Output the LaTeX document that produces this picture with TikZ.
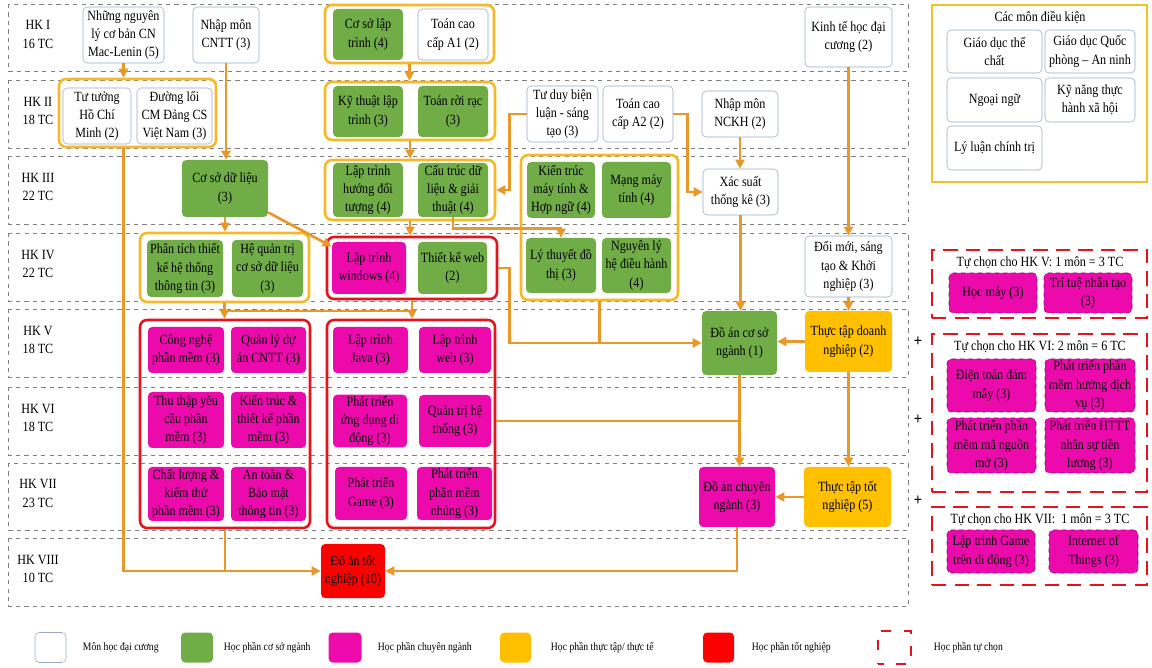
\documentclass[tikz,border=0pt]{standalone}
\usepackage{fontspec}
\setmainfont{Liberation Serif}[FakeStretch=0.86]
\usetikzlibrary{arrows.meta,calc}

\definecolor{csn}{RGB}{112,173,71}
\definecolor{ccn}{RGB}{236,10,172}
\definecolor{ctt}{RGB}{255,192,0}
\definecolor{ctn}{RGB}{255,0,0}
\definecolor{cline}{RGB}{232,152,40}
\definecolor{cgrp}{RGB}{247,184,40}
\definecolor{cdk}{RGB}{240,196,40}
\definecolor{cdc}{RGB}{150,170,200}
\definecolor{cred}{RGB}{228,20,28}
\definecolor{cdash}{RGB}{125,20,105}

\tikzset{
  course/.style={rounded corners=3pt, align=center, inner sep=1pt,
    font=\fontsize{10}{13}\selectfont},
  wh/.style 2 args={minimum width=#1*0.025cm, minimum height=#2*0.025cm},
  dc/.style={course, draw=cdc, fill=white},
  csn/.style={course, fill=csn},
  cn/.style={course, fill=ccn},
  tt/.style={course, fill=ctt},
  tn/.style={course, fill=ctn},
  opt/.style={course, fill=ccn, draw=cdash, dashed, thin},
  grpO/.style={draw=cgrp, line width=1.8pt, rounded corners=5pt},
  grpR/.style={draw=cred, line width=1.8pt, rounded corners=5pt},
  tcbox/.style={draw=cred, line width=1.8pt, dash pattern=on 10pt off 6pt},
  hkband/.style={draw=gray, dashed, line width=0.6pt},
  hklabel/.style={align=center, font=\fontsize{10}{13}\selectfont},
  ttl/.style={font=\fontsize{10}{13}\selectfont},
  legtext/.style={anchor=west, font=\fontsize{8}{9}\selectfont},
  arr/.style={draw=cline, line width=1.9pt, -{Triangle[length=6.5pt,width=6.5pt]}},
  ln/.style={draw=cline, line width=1.9pt}
}

\begin{document}
\begin{tikzpicture}[x=0.025cm, y=-0.025cm]
\useasboundingbox (0,0) rectangle (1152,668);

% hoc ky
\foreach \t/\b/\hk/\tc in {4/71/I/16, 80/148/II/18, 156/224/III/22, 233/301/IV/22,
    309/377/V/18, 387/455/VI/18, 463/530/VII/23, 538/606/VIII/10}{
  \draw[hkband] (8,\t) rectangle (908,\b);
  \node[hklabel] (hk\hk) at (38,{(\t+\b)/2-3}) {HK \hk\\\tc{} TC};
}

% nhom
\node[grpO, wh={169}{58}] (g1) at (409.5,34) {};
\node[grpO, wh={157}{68}] (gtt) at (137.5,113) {};
\node[grpO, wh={170}{58}] (g2) at (410,111) {};
\node[grpO, wh={170}{60}] (g3) at (410,190) {};
\node[grpO, wh={157}{145}] (gK) at (599.5,227.5) {};
\node[grpO, wh={169}{69}] (gP) at (224.5,267.5) {};
\node[grpR, wh={170}{62}] (g4) at (412,268) {};
\node[grpR, wh={170}{208}] (gL) at (225,424) {};
\node[grpR, wh={168}{208}] (gM) at (411,424) {};

% HK I
\node[dc, wh={81}{56}] (nnl) at (123.5,35) {Những nguyên\\lý cơ bản CN\\Mac-Lenin (5)};
\node[dc, wh={66}{56}] (nmcntt) at (226,35) {Nhập môn\\CNTT (3)};
\node[csn, wh={70}{51}] (cslt) at (368,34.5) {Cơ sở lập\\trình (4)};
\node[dc, wh={70}{51}] (tcca1) at (453,34.5) {Toán cao\\cấp A1 (2)};
\node[dc, wh={87}{60}] (ktdc) at (848.5,37) {Kinh tế học đại\\cương (2)};

% HK II
\node[dc, wh={68}{56}] (tthcm) at (97,116) {Tư tưởng\\Hồ Chí\\Minh (2)};
\node[dc, wh={75}{56}] (dlcm) at (174.5,116) {Đường lối\\CM Đảng CS\\Việt Nam (3)};
\node[csn, wh={70}{51}] (ktlt) at (368,111.5) {Kỹ thuật lập\\trình (3)};
\node[csn, wh={70}{51}] (trr) at (453,111.5) {Toán rời rạc\\(3)};
\node[dc, wh={71}{56}] (tdbl) at (562.5,114) {Tư duy biện\\luận - sáng\\tạo (3)};
\node[dc, wh={70}{56}] (tcca2) at (638,114) {Toán cao\\cấp A2 (2)};
\node[dc, wh={76}{46}] (nmnckh) at (740,114) {Nhập môn\\NCKH (2)};

% HK III
\node[csn, wh={86}{57}] (csdl) at (225,188.5) {Cơ sở dữ liệu\\(3)};
\node[csn, wh={70}{54}] (ltoop) at (368,190) {Lập trình\\hướng đối\\tượng (4)};
\node[csn, wh={70}{54}] (ctdl) at (453,190) {Cấu trúc dữ\\liệu \& giải\\thuật (4)};
\node[csn, wh={68}{56}] (ktmt) at (561,190) {Kiến trúc\\máy tính \&\\Hợp ngữ (4)};
\node[csn, wh={69}{56}] (mmt) at (636.5,190) {Mạng máy\\tính (4)};
\node[dc, wh={75}{46}] (xstk) at (740.5,192) {Xác suất\\thống kê (3)};

% HK IV
\node[csn, wh={76}{57}] (pttk) at (185,268.5) {Phân tích thiết\\kế hệ thống\\thông tin (3)};
\node[csn, wh={71}{57}] (hqt) at (267.5,268.5) {Hệ quản trị\\cơ sở dữ liệu\\(3)};
\node[cn, wh={74}{52}] (ltw) at (369,268) {Lập trình\\windows (4)};
\node[csn, wh={69}{52}] (tkw) at (452.5,268) {Thiết kế web\\(2)};
\node[csn, wh={70}{55}] (ltdt) at (561,265.5) {Lý thuyết đồ\\thị (3)};
\node[csn, wh={69}{55}] (nlhdh) at (636.5,265.5) {Nguyên lý\\hệ điều hành\\(4)};
\node[dc, wh={87}{61}] (dmst) at (848.5,266.5) {Đổi mới, sáng\\tạo \& Khởi\\nghiệp (3)};

% HK V
\node[cn, wh={76}{46}] (cnpm) at (186,350) {Công nghệ\\phần mềm (3)};
\node[cn, wh={75}{46}] (qlda) at (268.5,350) {Quản lý dự\\án CNTT (3)};
\node[cn, wh={75}{46}] (ltjava) at (370.5,350) {Lập trình\\Java (3)};
\node[cn, wh={72}{46}] (ltweb) at (455,350) {Lập trình\\web (3)};
\node[csn, wh={75}{64}] (dacsn) at (739.5,343) {Đồ án cơ sở\\ngành (1)};
\node[tt, wh={87}{61}] (ttdn) at (848.5,341.5) {Thực tập doanh\\nghiệp (2)};

% HK VI
\node[cn, wh={76}{56}] (ttyc) at (186,420) {Thu thập yêu\\cầu phần\\mềm (3)};
\node[cn, wh={75}{56}] (kttk) at (268.5,420) {Kiến trúc \&\\thiết kế phần\\mềm (3)};
\node[cn, wh={74}{52}] (ptudd) at (370,421) {Phát triển\\ứng dụng di\\động (3)};
\node[cn, wh={72}{52}] (qtht) at (455,421) {Quản trị hệ\\thống (3)};

% HK VII
\node[cn, wh={76}{54}] (clkt) at (186,494) {Chất lượng \&\\kiểm thử\\phần mềm (3)};
\node[cn, wh={75}{54}] (atbm) at (268.5,494) {An toàn \&\\Bảo mật\\thông tin (3)};
\node[cn, wh={72}{53}] (ptgame) at (371,493.5) {Phát triển\\Game (3)};
\node[cn, wh={75}{53}] (ptpmn) at (454.5,493.5) {Phát triển\\phần mềm\\nhúng (3)};
\node[cn, wh={76}{60}] (dacn) at (737,497) {Đồ án chuyên\\ngành (3)};
\node[tt, wh={87}{60}] (tttn) at (847.5,497) {Thực tập tốt\\nghiệp (5)};

% HK VIII
\node[tn, wh={64}{54}] (datn) at (353,571) {Đồ án tốt\\nghiệp (10)};

% cac mui ten
\draw[arr] (nnl.south) -- (nnl.south |- gtt.north);
\draw[arr] (nmcntt.south) -- (nmcntt.south |- csdl.north);
\draw[arr] (g1.south) -- (g1.south |- g2.north);
\draw[arr] (g2.south) -- (g2.south |- g3.north);
\draw[arr] (g3.south) -- (g3.south |- g4.north);
\draw[arr] (nnl.south |- gtt.south) -- (nnl.south |- datn.west) -- (datn.west);
\draw[ln] (gL.south) -- (gL.south |- datn.west);
\draw[arr] (tdbl.west) -- ++(-17,0) |- (g3.east);
\draw[arr] (tcca2.east) -- ++(14,0) |- (xstk.west);
\draw[arr] (nmnckh.south) -- (nmnckh.south |- xstk.north);
\draw[arr] (ktdc.south) -- (ktdc.south |- dmst.north);
\draw[arr] (dmst.south) -- (dmst.south |- ttdn.north);
\draw[arr] (ctdl.south) -- ++(0,11) -| (ltdt.north);
\draw[arr] (csdl.south) -- (csdl.south |- gP.north);
\draw[arr] (csdl.-29) -- (ltw.150);
\draw[arr] (gP.south) -- (gP.south |- gL.north);
\draw[arr] (g4.south) -- (g4.south |- gM.north);
\coordinate (j1) at ($(gP.south)!0.5!(gP.south |- gL.north)$);
\draw[ln] (j1) -- (j1 -| g4.south);
\draw[arr] (g4.east) -- ++(11,0) |- (dacsn.west);
\draw[ln] (gK.south) -- (gK.south |- dacsn.west);
\draw[arr] (xstk.south) -- (xstk.south |- dacsn.north);
\draw[arr] (ttdn.west) -- (ttdn.west -| dacsn.east);
\draw[arr] (dacsn.south) -- (dacsn.south |- dacn.north);
\draw[ln] (gM.east |- qtht.east) -- (qtht.east -| dacsn.south);
\draw[arr] (ttdn.south) -- (ttdn.south |- tttn.north);
\draw[arr] (tttn.west) -- (dacn.east);
\draw[arr] (dacn.south) |- (datn.east);

% mon dieu kien
\node[draw=cdk, line width=2pt, wh={215}{177}] (mdk) at (1039.5,93.5) {};
\node[ttl] (tmdk) at (1040,18) {Các môn điều kiện};
\node[dc, wh={95}{43}] (gdtc) at (994.5,51.5) {Giáo dục thể\\chất};
\node[dc, wh={90}{43}] (gdqp) at (1090,51.5) {Giáo dục Quốc\\phòng – An ninh};
\node[dc, wh={95}{44}] (nn) at (994.5,100) {Ngoại ngữ};
\node[dc, wh={90}{44}] (kntt) at (1090,100) {Kỹ năng thực\\hành xã hội};
\node[dc, wh={95}{44}] (llct) at (994.5,148) {Lý luận chính trị};

% tu chon
\node[tcbox, wh={215}{68}] (tc5) at (1039.5,284) {};
\node[ttl] (ttc5) at (1040,263) {Tự chọn cho HK V: 1 môn = 3 TC};
\node[opt, wh={88}{40}] (hm) at (993,293) {Học máy (3)};
\node[opt, wh={88}{40}] (ttnt) at (1088,293) {Trí tuệ nhân tạo\\(3)};

\node[tcbox, wh={215}{158}] (tc6) at (1039.5,413) {};
\node[ttl] (ttc6) at (1040,347) {Tự chọn cho HK VI: 2 môn = 6 TC};
\node[opt, wh={89}{53}] (dtdm) at (991.5,385.5) {Điện toán đám\\mây (3)};
\node[opt, wh={90}{53}] (ptpmdv) at (1090,385.5) {Phát triển phần\\mềm hướng dịch\\vụ (3)};
\node[opt, wh={89}{55}] (ptpmnm) at (991.5,445.5) {Phát triển phần\\mềm mã nguồn\\mở (3)};
\node[opt, wh={90}{55}] (ptht) at (1090,445.5) {Phát triển HTTT\\nhân sự tiền\\lương (3)};

\node[tcbox, wh={215}{78}] (tc7) at (1039.5,546) {};
\node[ttl] (ttc7) at (1040,520) {Tự chọn cho HK VII:~~1 môn = 3 TC};
\node[opt, wh={88}{43}] (ltgame) at (991,551.5) {Lập trình Game\\trên di động (3)};
\node[opt, wh={89}{43}] (iot) at (1093.5,551.5) {Internet of\\Things (3)};

\node[font=\bfseries\large, inner sep=0pt] (p1) at (918,342) {+};
\node[font=\bfseries\large, inner sep=0pt] (p2) at (918,420) {+};
\node[font=\bfseries\large, inner sep=0pt] (p3) at (918,501) {+};

% chu thich
\node[dc, wh={31}{30}] (lg1) at (50.5,647.5) {};
\node[legtext] (lt1) at (78,648) {Môn học đại cương};
\node[csn, wh={32}{30}] (lg2) at (197,647.5) {};
\node[legtext] (lt2) at (219,648) {Học phần cơ sở ngành};
\node[cn, wh={33}{30}] (lg3) at (345,647.5) {};
\node[legtext] (lt3) at (373,648) {Học phần chuyên ngành};
\node[tt, wh={31}{30}] (lg4) at (515.5,647.5) {};
\node[legtext] (lt4) at (546,648) {Học phần thực tập/ thực tế};
\node[tn, wh={31}{30}] (lg5) at (718.5,647.5) {};
\node[legtext] (lt5) at (747,648) {Học phần tốt nghiệp};
\node[draw=cred, line width=1.6pt, dash pattern=on 7pt off 9pt, dash phase=3pt,
  wh={33}{33}] (lg6) at (894.5,647.5) {};
\node[legtext] (lt6) at (929,648) {Học phần tự chọn};
\end{tikzpicture}
\end{document}
